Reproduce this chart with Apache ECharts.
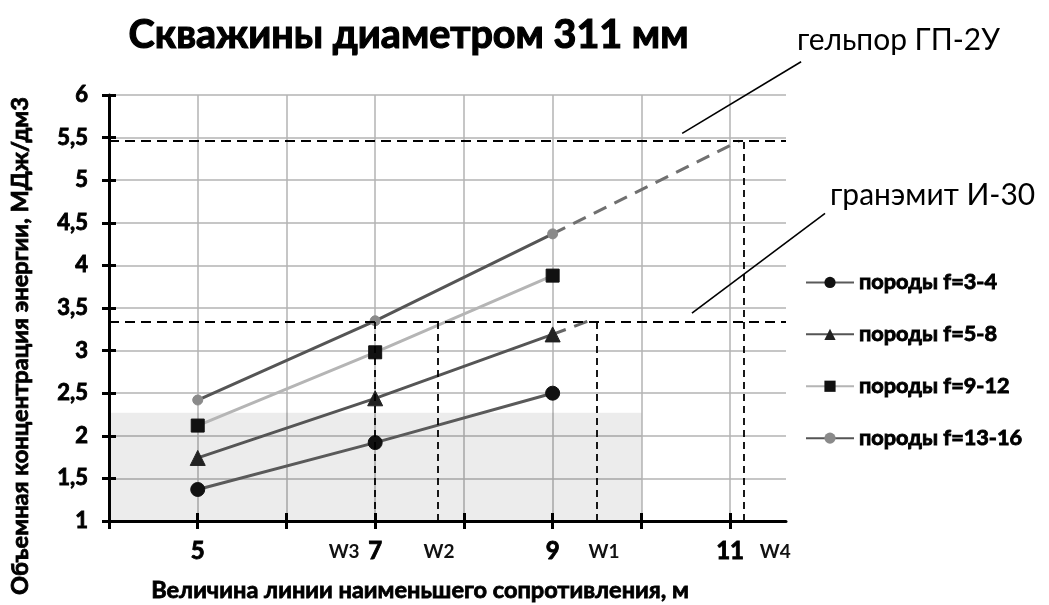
<!DOCTYPE html>
<html>
<head>
<meta charset="utf-8">
<script src="https://cdn.jsdelivr.net/npm/echarts@6/dist/echarts.min.js"></script>
<style>html,body{margin:0;padding:0;background:#fff}#c{width:1049px;height:605px}</style>
</head>
<body>
<div id="c"></div>
<script>
// ---- data ----
const titleText = 'Скважины диаметром 311 мм';
const yName = 'Объемная концентрация энергии, МДж/дм3';
const xName = 'Величина линии наименьшего сопротивления, м';
const seriesNames = ['породы f=3-4', 'породы f=5-8', 'породы f=9-12', 'породы f=13-16'];
const xValues = [5, 7, 9];
const f34 = [1.37, 1.92, 2.5];
const f58 = [1.74, 2.44, 3.19];
const f912 = [2.12, 2.98, 3.88];
const f1316 = [2.42, 3.35, 4.37];
const ext58X = [9, 9.41];
const ext58Y = [3.19, 3.35];
const ext1316X = [9, 11.1];
const ext1316Y = [4.37, 5.46];
const levelNames = ['гельпор ГП-2У', 'гранэмит И-30'];
const levelY = [5.46, 3.34];
const wNames = ['W3', 'W2', 'W1', 'W4'];
const wX = [7, 7.7, 9.5, 11.15];
const wTop = [3.34, 3.34, 3.34, 5.46];
const wLabelX = [6.65, 7.72, 9.58, 11.51];
const shadeX = [4, 10];
const shadeY = [1, 2.27];
const xMin = 4, xMax = 11.63;
const yMin = 1, yMax = 6;
const xTicks = [4, 5, 6, 7, 8, 9, 10, 11];
const xLabels = [5, 7, 9, 11];
// leader lines for the explosive annotations (data coords)
const leaderFrom = [[10.46, 5.55], [10.57, 3.44]];
const leaderTo = [[11.80, 6.39], [12.07, 4.61]];

const FONT = 'Lato, "Open Sans", sans-serif';
function fit(text, weight, target) {
  const ctx = document.createElement('canvas').getContext('2d');
  ctx.font = weight + ' 100px ' + FONT;
  return 100 * target / ctx.measureText(text).width;
}
const pts = (ys, xs) => ys.map((y, i) => [xs[i], y]);

const chart = echarts.init(document.getElementById('c'), null, {renderer: 'canvas'});
const legendSize = fit(seriesNames[0], 'bold', 138);
const tickStyle = {color: '#000', width: 3};
const heavy = {textBorderColor: '#000', textBorderWidth: 0.9};
const option = {
  animation: false,
  backgroundColor: '#fff',
  textStyle: {fontFamily: FONT},
  grid: {left: 109, right: 263, top: 95, bottom: 84, containLabel: false},
  legend: {
    orient: 'vertical', left: 800, top: 266, itemGap: 29,
    itemWidth: 48, itemHeight: 14,
    data: seriesNames,
    textStyle: Object.assign({fontFamily: FONT, fontWeight: 'bold', fontSize: legendSize, color: '#000'}, heavy)
  },
  xAxis: [{
    type: 'value', min: xMin, max: xMax, interval: 1,
    axisLine: {show: true, lineStyle: {color: '#000', width: 3}},
    axisTick: {show: false},
    axisLabel: Object.assign({customValues: xLabels, fontSize: 24, fontWeight: 'bold', color: '#000', margin: 18, fontFamily: FONT}, heavy),
    splitLine: {show: false}
  }, {
    type: 'value', min: xMin, max: xMax, interval: 2, position: 'bottom', offset: -8,
    axisLine: {show: false},
    axisTick: {show: true, customValues: xTicks, length: 16, lineStyle: tickStyle},
    axisLabel: {show: false},
    splitLine: {show: true, lineStyle: {color: '#b3b3b3', width: 1.5}}
  }],
  yAxis: [{
    type: 'value', min: yMin, max: yMax, interval: 0.5,
    axisLine: {show: true, lineStyle: {color: '#000', width: 3}},
    axisTick: {show: false},
    axisLabel: Object.assign({fontSize: 22, fontWeight: 'bold', color: '#000', margin: 21, fontFamily: FONT,
      formatter: v => String(v).replace('.', ',')}, heavy),
    splitLine: {show: true, lineStyle: {color: '#b3b3b3', width: 1.5}}
  }, {
    type: 'value', min: yMin, max: yMax, interval: 0.5, position: 'left', offset: -7,
    axisLine: {show: false},
    axisTick: {show: true, length: 14, lineStyle: tickStyle},
    axisLabel: {show: false},
    splitLine: {show: false}
  }],
  series: [
    {
      name: 'helper', type: 'line', data: [], silent: true, z: 1,
      markArea: {silent: true, itemStyle: {color: 'rgba(0,0,0,0.075)'},
        data: [[{coord: [shadeX[0], shadeY[0]]}, {coord: [shadeX[1], shadeY[1]]}]]},
      markLine: {
        silent: true, symbol: ['none', 'none'], label: {show: false},
        data: levelY.map(y => [
          {coord: [xMin, y], lineStyle: {color: '#000', width: 1.8, type: [10, 6]}},
          {coord: [xMax, y]}
        ]).concat(wX.map((x, i) => [
          {coord: [x, yMin], lineStyle: {color: '#000', width: 1.8, type: [7, 5]}},
          {coord: [x, wTop[i]]}
        ]))
      }
    },
    {name: 'ext58', type: 'line', data: pts(ext58Y, ext58X), symbol: 'none', z: 3,
      lineStyle: {color: '#666', width: 3, type: [14, 9]}},
    {name: 'ext1316', type: 'line', data: pts(ext1316Y, ext1316X), symbol: 'none', z: 3,
      lineStyle: {color: '#707070', width: 3, type: [14, 9]}},
    {name: seriesNames[0], type: 'line', data: pts(f34, xValues), symbol: 'circle', symbolSize: 14, z: 4,
      lineStyle: {color: '#5a5a5a', width: 3}, itemStyle: {color: '#111', borderColor: '#111'}},
    {name: seriesNames[1], type: 'line', data: pts(f58, xValues), symbol: 'triangle', symbolSize: 15, z: 4,
      lineStyle: {color: '#555', width: 3}, itemStyle: {color: '#222', borderColor: '#222'}},
    {name: seriesNames[2], type: 'line', data: pts(f912, xValues), symbol: 'rect', symbolSize: 13, z: 4,
      lineStyle: {color: '#b5b5b5', width: 3}, itemStyle: {color: '#111', borderColor: '#111'}},
    {name: seriesNames[3], type: 'line', data: pts(f1316, xValues), symbol: 'circle', symbolSize: 10, z: 4,
      lineStyle: {color: '#555', width: 3}, itemStyle: {color: '#8a8a8a', borderColor: '#8a8a8a'}}
  ]
};
chart.setOption(option);

const P = c => chart.convertToPixel({xAxisIndex: 0, yAxisIndex: 0}, c);
const titleSize = fit(titleText, 'bold', 560);
const yNameSize = fit(yName, 'bold', 498);
const xNameSize = fit(xName, 'bold', 538);
const annSize = fit(levelNames[0], 'normal', 203);
const graphics = [
  {type: 'text', left: 128, top: 15, style: {text: titleText, font: 'bold ' + titleSize + 'px ' + FONT, fill: '#000', stroke: '#000', lineWidth: 1.2}},
  {type: 'text', x: 20, y: 346, rotation: Math.PI / 2,
    style: {text: yName, font: 'bold ' + yNameSize + 'px ' + FONT, fill: '#000', stroke: '#000', lineWidth: 0.8, align: 'center', verticalAlign: 'middle'}},
  {type: 'text', x: 420, y: 590,
    style: {text: xName, font: 'bold ' + xNameSize + 'px ' + FONT, fill: '#000', stroke: '#000', lineWidth: 0.8, align: 'center', verticalAlign: 'middle'}},
  {type: 'text', x: 797, y: 40, style: {text: levelNames[0], font: annSize + 'px ' + FONT, fill: '#000', verticalAlign: 'middle'}},
  {type: 'text', x: 830, y: 195, style: {text: levelNames[1], font: annSize + 'px ' + FONT, fill: '#000', verticalAlign: 'middle'}}
];
leaderFrom.forEach((a, i) => {
  const p1 = P(a), p2 = P(leaderTo[i]);
  graphics.push({type: 'line', shape: {x1: p1[0], y1: p1[1], x2: p2[0], y2: p2[1]}, style: {stroke: '#000', lineWidth: 1.6}});
});
const axisY = P([xMin, yMin])[1];
wNames.forEach((n, i) => {
  const p = P([wLabelX[i], yMin]);
  graphics.push({type: 'text', x: p[0], y: axisY + 31,
    style: {text: n, font: 'bold 19px ' + FONT, fill: '#111', align: 'center', verticalAlign: 'middle'}});
});
chart.setOption({graphic: graphics});
</script>
</body>
</html>
